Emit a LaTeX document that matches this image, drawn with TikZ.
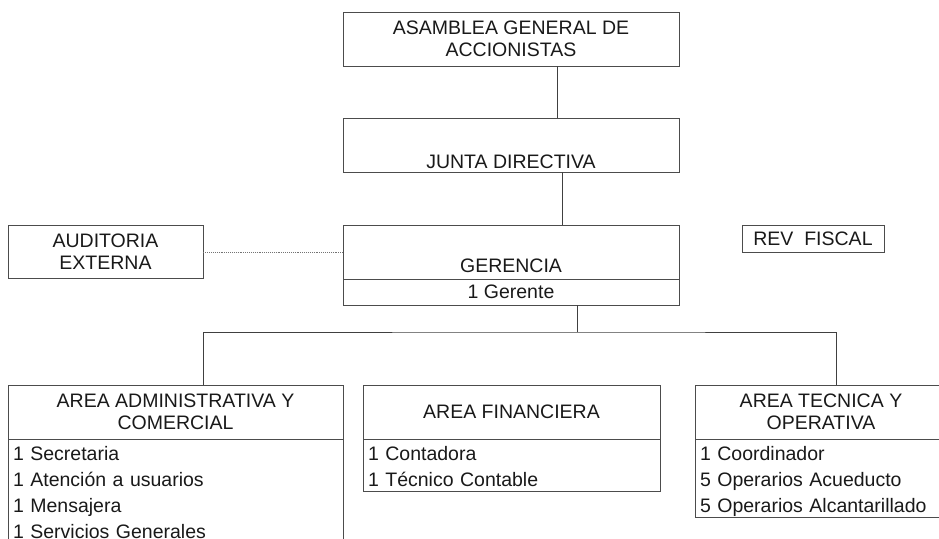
\documentclass[tikz,border=0pt]{standalone}
\usepackage{fontspec}
\setmainfont{Liberation Sans}
\usetikzlibrary{positioning,calc}
\newcommand{\rowstrut}{\rule[-5pt]{0pt}{26pt}}

\begin{document}
\begin{tikzpicture}[x = 1pt, y = -1pt,
  every node/.style = {font = \fontsize{19.5}{22}\selectfont, text = black!90},
  box/.style = {draw = black!70, line width = .9pt, align = center, inner sep = 0pt},
  lista/.style = {box, anchor = north, align = left, inner xsep = 5pt, inner ysep = 0pt, font = \fontsize{19.5}{26}\selectfont},
  enlace/.style = {draw = black!75, line width = .9pt}]
\useasboundingbox (0,0) rectangle (939,538);
\node[box, minimum width = 336pt, minimum height = 54pt] (asam) at (511,39) {ASAMBLEA GENERAL DE\\ACCIONISTAS};
\node[box, minimum width = 336pt, minimum height = 54pt] (junta) at (511,145) {};
\node (junta-t) at (511,162) {JUNTA DIRECTIVA};
\node[box, minimum width = 336pt, minimum height = 54pt] (ger) at (511,252) {};
\node (ger-t) at (511,266) {GERENCIA};
\node[box, minimum width = 336pt, minimum height = 26pt] (gerente) at (511,292) {1 Gerente};
\node[box, minimum width = 195pt, minimum height = 53pt] (aud) at (105.5,252) {AUDITORIA\\EXTERNA};
\node[box, minimum width = 142pt, minimum height = 27pt] (rev) at (813,238.5) {REV\ \ FISCAL};
\node[box, minimum width = 335pt, minimum height = 54pt] (adm) at (175.5,412) {AREA ADMINISTRATIVA Y\\COMERCIAL};
\node[box, minimum width = 297pt, minimum height = 54pt] (fin) at (511.5,412) {AREA FINANCIERA};
\node[box, minimum width = 252pt, minimum height = 54pt] (tec) at (821,412) {AREA TECNICA Y\\OPERATIVA};
\node[lista, text width = 325pt] (adm-l) at (adm.south) {\rowstrut 1 Secretaria\\\rowstrut 1 Atención a usuarios\\\rowstrut 1 Mensajera\\\rowstrut 1 Servicios Generales};
\node[lista, text width = 287pt] (fin-l) at (fin.south) {\rowstrut 1 Contadora\\\rowstrut 1 Técnico Contable};
\node[lista, text width = 242pt] (tec-l) at (tec.south) {\rowstrut 1 Coordinador\\\rowstrut 5 Operarios Acueducto\\\rowstrut 5 Operarios Alcantarillado};
\coordinate (ramal) at (577,332);
\draw[enlace] ([xshift = 46pt]asam.south) -- ([xshift = 46pt]junta.north);
\draw[enlace] ([xshift = 51pt]junta.south) -- ([xshift = 51pt]ger.north);
\draw[enlace, densely dotted, draw = black!55] (aud.east) -- (ger.west);
\draw[enlace] ([xshift = 66pt]gerente.south) -- (ramal);
\draw[enlace] ([xshift = 27.5pt]adm.north) |- (ramal) -| ([xshift = 15pt]tec.north);
\end{tikzpicture}
\end{document}
